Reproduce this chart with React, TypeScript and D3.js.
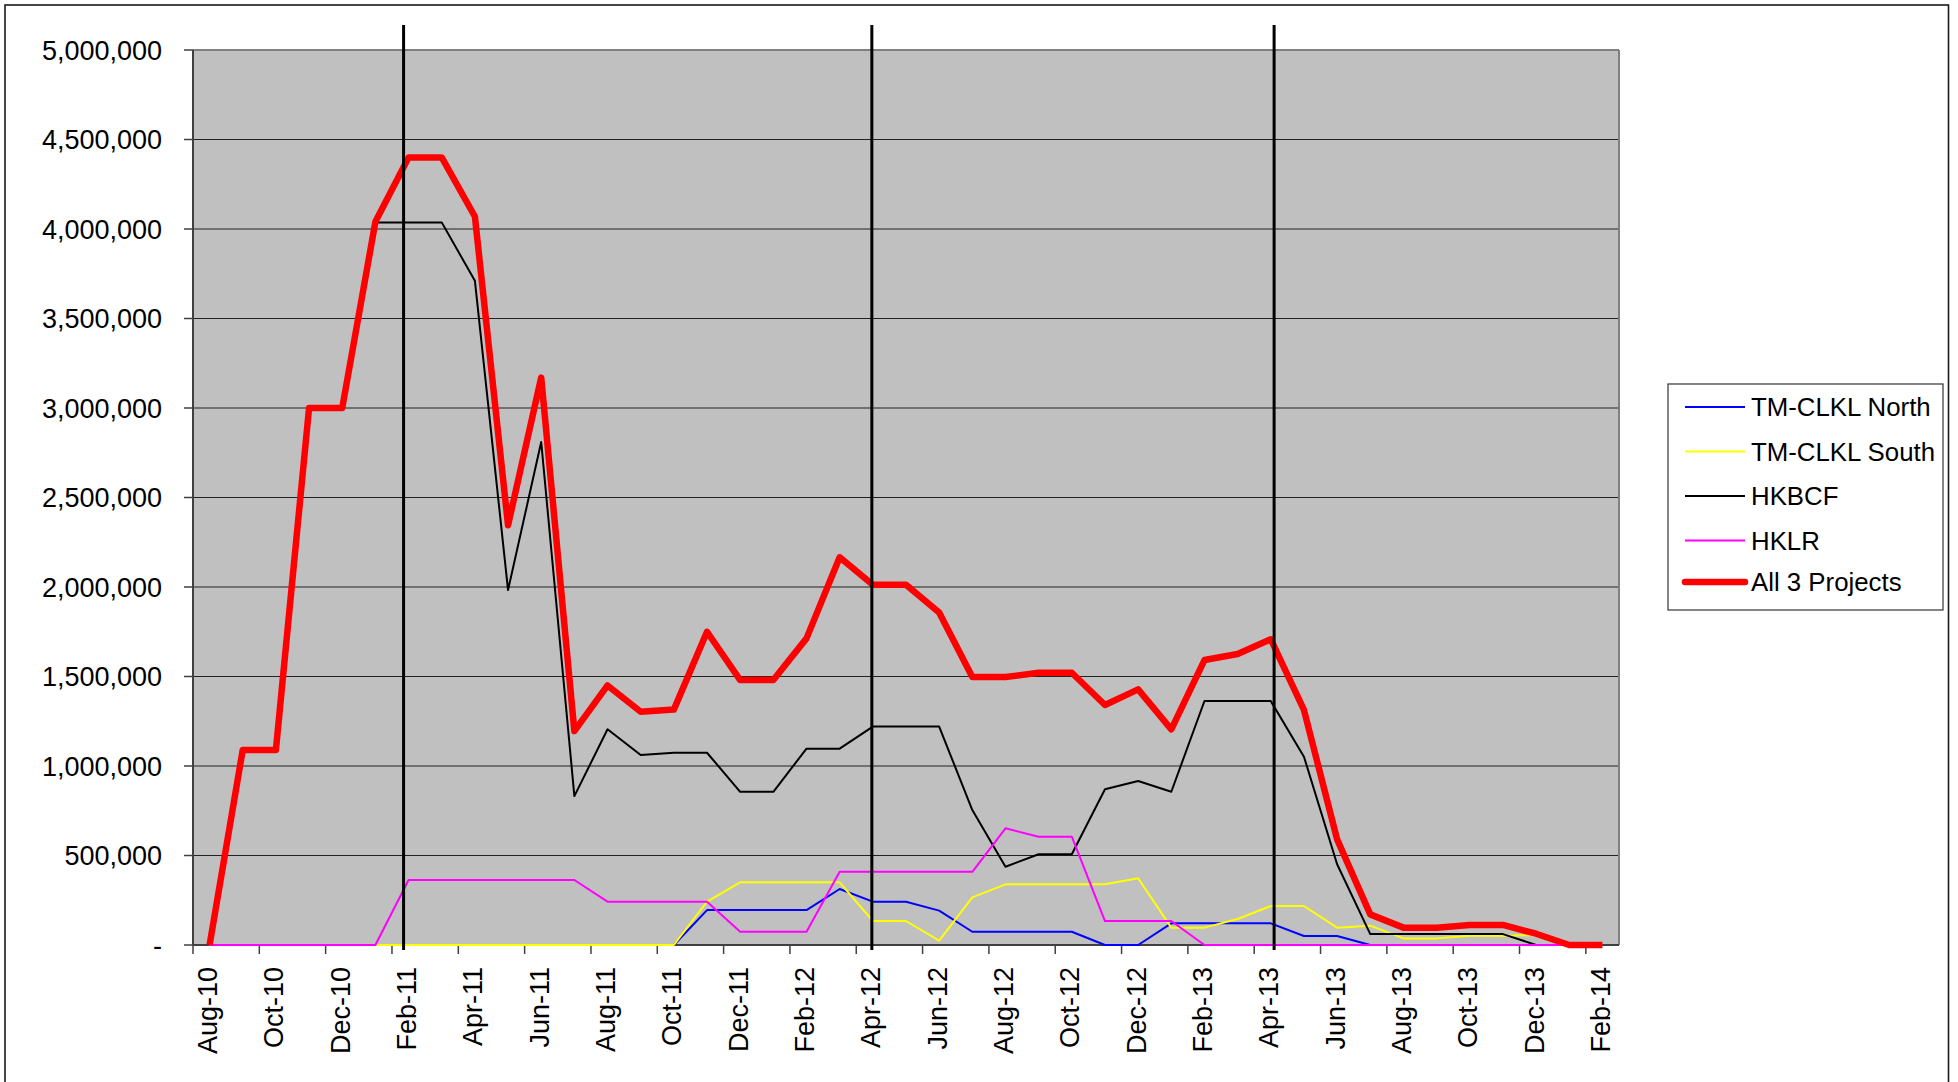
import React from "react";
import * as d3 from "d3";

// Monthly categories, Aug-10 .. Feb-14
const months = [
  "Aug-10", "Sep-10", "Oct-10", "Nov-10", "Dec-10", "Jan-11", "Feb-11", "Mar-11",
  "Apr-11", "May-11", "Jun-11", "Jul-11", "Aug-11", "Sep-11", "Oct-11", "Nov-11",
  "Dec-11", "Jan-12", "Feb-12", "Mar-12", "Apr-12", "May-12", "Jun-12", "Jul-12",
  "Aug-12", "Sep-12", "Oct-12", "Nov-12", "Dec-12", "Jan-13", "Feb-13", "Mar-13",
  "Apr-13", "May-13", "Jun-13", "Jul-13", "Aug-13", "Sep-13", "Oct-13", "Nov-13",
  "Dec-13", "Jan-14", "Feb-14",
];

const tmClklNorth = [
  0, 0, 0, 0, 0, 0, 0, 0, 0, 0, 0, 0, 0, 0, 0,
  195000, 195000, 195000, 195000, 313000, 242000, 242000, 192000,
  74000, 74000, 74000, 74000, 0, 0, 121000, 121000, 121000, 121000,
  50000, 50000, 0, 0, 0, 0, 0, 0, 0, 0,
];

const tmClklSouth = [
  0, 0, 0, 0, 0, 0, 0, 0, 0, 0, 0, 0, 0, 0, 0,
  242000, 350000, 350000, 350000, 350000, 134000, 134000, 24000, 266000,
  339000, 339000, 339000, 339000, 373000, 97000, 97000, 145000, 218000, 218000,
  97000, 108000, 37000, 37000, 51000, 51000, 56000, 0, 0,
];

const hkbcf = [
  0, 1090000, 1090000, 3000000, 3000000, 4037000, 4037000, 4037000, 3711000,
  1983000, 2810000, 832000, 1205000, 1061000, 1074000, 1074000, 856000, 856000,
  1097000, 1097000, 1220000, 1220000, 1220000, 754000, 437000, 507000, 507000,
  870000, 916000, 856000, 1363000, 1363000, 1363000, 1052000, 451000, 61000,
  61000, 61000, 61000, 61000, 0, 0, 0,
];

const hklr = [
  0, 0, 0, 0, 0, 0, 363000, 363000, 363000, 363000, 363000, 363000,
  242000, 242000, 242000, 242000, 74000, 74000, 74000,
  409000, 409000, 409000, 409000, 409000, 652000, 605000, 605000,
  134000, 134000, 134000, 0, 0, 0, 0, 0, 0, 0, 0, 0, 0, 0, 0, 0,
];

const allProjects = [
  0, 1090000, 1090000, 3000000, 3000000, 4040000, 4400000, 4400000, 4070000,
  2345000, 3170000, 1195000, 1450000, 1303000, 1315000, 1750000, 1480000, 1480000,
  1713000, 2166000, 2013000, 2013000, 1857000, 1497000, 1497000, 1521000, 1521000,
  1341000, 1428000, 1205000, 1592000, 1626000, 1708000, 1313000, 590000, 171000,
  97000, 97000, 112000, 112000, 63000, 0, 0,
];

// Milestone markers, as positions on the month index
const milestones = [5.85, 19.97, 32.1];

const yTicks = [0, 500000, 1000000, 1500000, 2000000, 2500000, 3000000, 3500000, 4000000, 4500000, 5000000];

const seriesList = [
  { name: "TM-CLKL North", values: tmClklNorth, color: "#0000FF", width: 2 },
  { name: "TM-CLKL South", values: tmClklSouth, color: "#FFFF00", width: 2 },
  { name: "HKBCF", values: hkbcf, color: "#000000", width: 2 },
  { name: "HKLR", values: hklr, color: "#FF00FF", width: 2 },
  { name: "All 3 Projects", values: allProjects, color: "#FF0000", width: 6.5 },
];

const W = 1958;
const H = 1082;
const plot = { left: 193, right: 1619, top: 50, bottom: 945 };
const FONT = "'Liberation Sans', Arial, sans-serif";

export default function App() {
  const x = d3.scaleLinear().domain([-0.5, months.length - 0.5]).range([plot.left, plot.right]);
  const y = d3.scaleLinear().domain([0, 5000000]).range([plot.bottom, plot.top]);
  const line = d3
    .line<number>()
    .x((_, i) => x(i))
    .y((d) => y(d));
  const fmt = d3.format(",");

  const tickIdx = d3.range(0, months.length + 1, 2);
  const labelIdx = d3.range(0, months.length, 2);

  const legend = { x: 1668, y: 384, w: 275, h: 226 };
  const legendRows = [407, 451.5, 496, 540.5, 582];

  return (
    <div style={{ position: "absolute", left: 0, top: 0 }}>
      <svg width={W} height={H} style={{ display: "block", background: "#fff" }}>
        <rect x={0} y={0} width={W} height={H} fill="#fff" />
        {/* outer frame */}
        <rect x={5} y={5} width={1943.5} height={1100} fill="none" stroke="#1a1a1a" strokeWidth={1.6} />

        {/* plot area */}
        <rect
          x={plot.left}
          y={plot.top}
          width={plot.right - plot.left}
          height={plot.bottom - plot.top}
          fill="#C0C0C0"
        />
        {/* gridlines */}
        {yTicks.slice(1, -1).map((t) => (
          <line key={t} x1={plot.left} x2={plot.right} y1={y(t)} y2={y(t)} stroke="#222" strokeWidth={1.2} />
        ))}
        {/* plot border top/right */}
        <line x1={plot.left} x2={plot.right} y1={plot.top} y2={plot.top} stroke="#808080" strokeWidth={2} />
        <line x1={plot.right} x2={plot.right} y1={plot.top} y2={plot.bottom} stroke="#808080" strokeWidth={2} />

        {/* y axis */}
        <line x1={plot.left} x2={plot.left} y1={plot.top} y2={plot.bottom} stroke="#404040" strokeWidth={2} />
        {yTicks.map((t) => (
          <g key={t}>
            <line x1={plot.left - 9} x2={plot.left} y1={y(t)} y2={y(t)} stroke="#404040" strokeWidth={1.5} />
            <text
              x={162}
              y={y(t) + 9.6}
              textAnchor="end"
              fontFamily={FONT}
              fontSize={27}
              fill="#000"
            >
              {t === 0 ? "-" : fmt(t)}
            </text>
          </g>
        ))}

        {/* x axis */}
        <line x1={plot.left} x2={plot.right} y1={plot.bottom} y2={plot.bottom} stroke="#404040" strokeWidth={2} />
        {tickIdx.map((i) => (
          <line
            key={i}
            x1={x(i - 0.5)}
            x2={x(i - 0.5)}
            y1={plot.bottom}
            y2={plot.bottom + 9}
            stroke="#404040"
            strokeWidth={1.5}
          />
        ))}
        {labelIdx.map((i) => (
          <text
            key={i}
            transform={`translate(${x(i) + 7.5},${967}) rotate(-90)`}
            textAnchor="end"
            fontFamily={FONT}
            fontSize={27}
            fill="#000"
          >
            {months[i]}
          </text>
        ))}

        {/* series */}
        {seriesList.map((s) => (
          <path
            key={s.name}
            d={line(s.values) || ""}
            fill="none"
            stroke={s.color}
            strokeWidth={s.width}
            strokeLinejoin="round"
          />
        ))}

        {/* milestone markers */}
        {milestones.map((m) => (
          <line key={m} x1={x(m)} x2={x(m)} y1={25} y2={950} stroke="#000" strokeWidth={3} />
        ))}

        {/* legend */}
        <rect x={legend.x} y={legend.y} width={legend.w} height={legend.h} fill="#fff" stroke="#333" strokeWidth={1.2} />
        {seriesList.map((s, k) => (
          <g key={s.name}>
            <line
              x1={1685}
              x2={1745}
              y1={legendRows[k]}
              y2={legendRows[k]}
              stroke={s.color}
              strokeWidth={s.width}
              strokeLinecap={s.width > 3 ? "round" : "butt"}
            />
            <text x={1751} y={legendRows[k] + 9} fontFamily={FONT} fontSize={25.8} fill="#000">
              {s.name}
            </text>
          </g>
        ))}
      </svg>
    </div>
  );
}
